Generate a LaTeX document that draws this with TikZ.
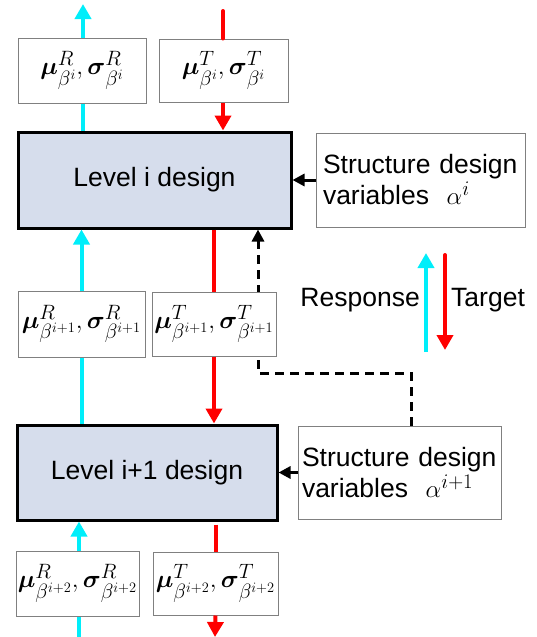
\documentclass[tikz,border=0pt]{standalone}
\usepackage{amsmath}
\usepackage{fontspec}
\setmainfont{Liberation Sans}
\usetikzlibrary{arrows.meta,backgrounds}

\definecolor{respcol}{RGB}{0,238,250}
\definecolor{targcol}{RGB}{255,0,0}
\definecolor{lvlfill}{RGB}{214,221,236}

\tikzset{
  level/.style={draw,line width=3pt,fill=lvlfill,inner sep=0pt,font=\fontsize{26.5}{31}\selectfont},
  stat/.style={draw=gray,line width=1pt,fill=white,inner sep=0pt,font=\fontsize{31}{33}\selectfont},
  varbox/.style={draw=gray,line width=1pt,fill=white,inner sep=4pt,align=left,text width=195pt,font=\fontsize{26.5}{31}\selectfont},
  resp/.style={draw=respcol,line width=4pt},
  targ/.style={draw=targcol,line width=4pt},
  bigtip/.style={-{Triangle[width=16pt,length=15pt]}},
  smalltip/.style={-{Triangle[width=12pt,length=12pt]}}
}

\newcommand{\musig}[2]{$\boldsymbol{\mu}^{#1}_{\beta^{#2}},\boldsymbol{\sigma}^{#1}_{\beta^{#2}}$}

\begin{document}
\begin{tikzpicture}[x=1pt,y=-1pt]
\useasboundingbox (0,0) rectangle (537,637);

% level blocks
\node (lvlA) at (154.5,180) [level,minimum width=273pt,minimum height=96pt] {Level i design};
\node (lvlB) at (147,472.5) [level,minimum width=260pt,minimum height=95pt] {Level i+1 design};

% design variables
\node (varA) at (420.5,180) [varbox,minimum width=209pt,minimum height=94pt] {Structure design\\variables\ \ {\fontsize{29}{31}\selectfont$\alpha^{i}$}};
\node (varB) at (399.5,472.5) [varbox,minimum width=203pt,minimum height=93pt] {Structure design\\variables\ \ {\fontsize{29}{31}\selectfont$\alpha^{i+1}$}};

% response / target statistics
\node (respA) at (82,70.5) [stat,minimum width=128pt,minimum height=65pt] {\musig{R}{i}};
\node (targA) at (223.5,70.5) [stat,minimum width=129pt,minimum height=63pt] {\musig{T}{i}};
\node (respB) at (81.5,324) [stat,minimum width=127pt,minimum height=66pt] {\musig{R}{i+1}};
\node (targB) at (214,324) [stat,minimum width=124pt,minimum height=64pt] {\musig{T}{i+1}};
\node (respC) at (77.5,583.5) [stat,minimum width=123pt,minimum height=65pt] {\musig{R}{i+2}};
\node (targC) at (215.5,583.5) [stat,minimum width=125pt,minimum height=63pt] {\musig{T}{i+2}};

\coordinate (respTop) at (83,4);
\coordinate (targTop) at (223,11);
\coordinate (respBot) at (79,637);
\coordinate (targBot) at (215,637);

% response going up
\draw[resp,bigtip] (respTop |- respA.north) -- (respTop);
\draw[resp] (respTop |- lvlA.north) -- (respTop |- respA.south);
\draw[resp,bigtip] (respB.north) -- (respB.north |- lvlA.south);
\draw[resp] (respB.south |- lvlB.north) -- (respB.south);
\draw[resp,bigtip] (respBot |- respC.north) -- (respBot |- lvlB.south);
\draw[resp] (respBot) -- (respBot |- respC.south);

% target going down
\draw[targ,line cap=round] (targTop) -- (targTop |- targA.north);
\draw[targ,bigtip] (targTop |- targA.south) -- (targTop |- lvlA.north);
\draw[targ] (targB.north |- lvlA.south) -- (targB.north);
\draw[targ,bigtip] (targB.south) -- (targB.south |- lvlB.north);
\draw[targ] ([yshift=-3pt]targC.north |- lvlB.south) -- (targC.north);
\draw[targ,bigtip] (targC.south) -- (targBot);

% design variable inputs
\draw[line width=3pt,smalltip] (varA.west) -- (varA.west -| lvlA.east);
\draw[line width=3pt,smalltip] (varB.west) -- (varB.west -| lvlB.east);

% feedback from level i+1, passes behind the boxes
\coordinate (fbA) at (411,373);
\coordinate (fbB) at (258,373);
\begin{scope}[on background layer]
\draw[line width=3pt,dash pattern=on 9pt off 6pt,smalltip] (fbA |- varB.north) -- (fbA) -- (fbB) -- (fbB |- lvlA.south);
\end{scope}

% legend
\coordinate (legRa) at (426,352);
\coordinate (legRb) at (426,253);
\coordinate (legTa) at (445,255);
\coordinate (legTb) at (445,350);
\draw[resp,bigtip] (legRa) -- (legRb);
\draw[targ,bigtip,line cap=round] (legTa) -- (legTb);
\node (respTxt) at (420,300) [anchor=east,inner sep=0pt,font=\fontsize{26.5}{31}\selectfont] {Response};
\node (targTxt) at (451,300) [anchor=west,inner sep=0pt,font=\fontsize{26.5}{31}\selectfont] {Target};

\end{tikzpicture}
\end{document}
